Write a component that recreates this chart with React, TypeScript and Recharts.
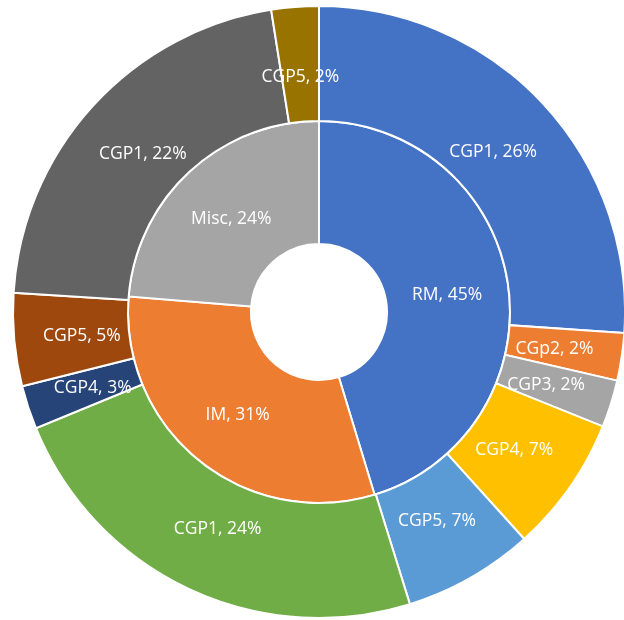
import React from "react";
import { PieChart, Pie, Cell } from "recharts";

const innerNames = ["RM", "IM", "Misc"];
const innerValues = [45.3, 31.0, 23.7];
const innerPercents = [45, 31, 24];
const innerColors = ["#4472C4", "#ED7D31", "#A5A5A5"];

const outerNames = ["CGP1", "CGp2", "CGP3", "CGP4", "CGP5", "CGP1", "CGP4", "CGP5", "CGP1", "CGP5"];
const outerValues = [26.1, 2.5, 2.5, 7.2, 6.9, 23.6, 2.3, 4.9, 21.5, 2.5];
const outerPercents = [26, 2, 2, 7, 7, 24, 3, 5, 22, 2];
const outerColors = [
  "#4472C4", "#ED7D31", "#A5A5A5", "#FFC000", "#5B9BD5",
  "#70AD47", "#264478", "#9E480E", "#636363", "#997300",
];

const innerData = innerNames.map((n, i) => ({ name: n, value: innerValues[i], pct: innerPercents[i] }));
const outerData = outerNames.map((n, i) => ({ name: n, value: outerValues[i], pct: outerPercents[i] }));

const RAD = Math.PI / 180;
const FONT = "'Open Sans', sans-serif";

const makeLabel = (frac: number) => (props: any) => {
  const { cx, cy, midAngle, innerRadius, outerRadius, payload, index } = props;
  const r = innerRadius + (outerRadius - innerRadius) * frac;
  const x = cx + r * Math.cos(-midAngle * RAD);
  const y = cy + r * Math.sin(-midAngle * RAD);
  const p = payload && payload.payload ? payload.payload : payload;
  return (
    <text
      key={`l-${index}`}
      x={x}
      y={y}
      fill="#ffffff"
      textAnchor="middle"
      dominantBaseline="central"
      fontFamily={FONT}
      fontSize={17.5}
    >
      {`${p.name}, ${p.pct}%`}
    </text>
  );
};

export default function App() {
  return (
    <div style={{ position: "fixed", left: 0, top: 0, width: 624, height: 620 }}>
      <PieChart width={624} height={620} margin={{ top: 0, right: 0, bottom: 0, left: 0 }}>
        <Pie
          data={innerData}
          dataKey="value"
          cx={319}
          cy={312}
          innerRadius={68}
          outerRadius={191}
          startAngle={90}
          endAngle={-270}
          stroke="#ffffff"
          strokeWidth={2}
          label={makeLabel(0.5)}
          labelLine={false}
          isAnimationActive={false}
        >
          {innerData.map((d, i) => (
            <Cell key={`i-${i}`} fill={innerColors[i]} />
          ))}
        </Pie>
        <Pie
          data={outerData}
          dataKey="value"
          cx={319}
          cy={312}
          innerRadius={191}
          outerRadius={306}
          startAngle={90}
          endAngle={-270}
          stroke="#ffffff"
          strokeWidth={2}
          label={makeLabel(0.41)}
          labelLine={false}
          isAnimationActive={false}
        >
          {outerData.map((d, i) => (
            <Cell key={`o-${i}`} fill={outerColors[i]} />
          ))}
        </Pie>
      </PieChart>
    </div>
  );
}
